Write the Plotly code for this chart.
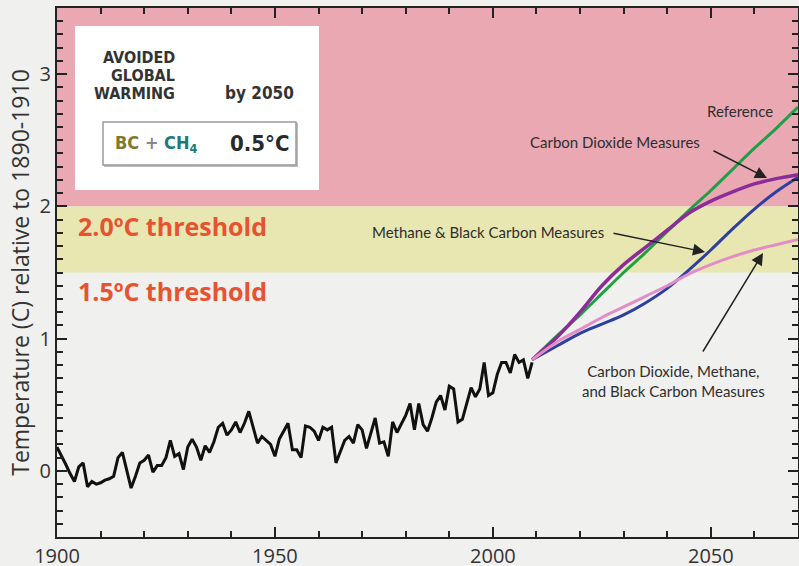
import plotly.graph_objects as go

# ---------------- data ----------------
obs_years = list(range(1900, 2010))
obs_temp = [
    0.18, 0.12, 0.05, -0.02, -0.08, 0.03, 0.06, -0.12, -0.08, -0.10,
    -0.09, -0.07, -0.06, -0.04, 0.10, 0.14, 0.00, -0.13, -0.04, 0.06,
    0.08, 0.12, -0.01, 0.04, 0.04, 0.10, 0.23, 0.11, 0.13, 0.01,
    0.18, 0.24, 0.18, 0.08, 0.19, 0.14, 0.22, 0.33, 0.36, 0.27,
    0.31, 0.37, 0.29, 0.36, 0.45, 0.33, 0.21, 0.26, 0.23, 0.20,
    0.11, 0.24, 0.30, 0.36, 0.16, 0.16, 0.10, 0.34, 0.33, 0.30,
    0.23, 0.33, 0.31, 0.33, 0.06, 0.15, 0.23, 0.26, 0.21, 0.35,
    0.31, 0.17, 0.29, 0.40, 0.21, 0.22, 0.11, 0.37, 0.29, 0.35,
    0.42, 0.51, 0.31, 0.51, 0.35, 0.30, 0.40, 0.52, 0.57, 0.46,
    0.64, 0.62, 0.37, 0.39, 0.51, 0.63, 0.56, 0.62, 0.82, 0.57,
    0.59, 0.73, 0.82, 0.82, 0.74, 0.88, 0.82, 0.84, 0.70, 0.82,
]

proj_years = [2009, 2015, 2020, 2025, 2030, 2035, 2040, 2045, 2050, 2055, 2060, 2065, 2070]
reference = [0.84, 1.03, 1.18, 1.34, 1.50, 1.65, 1.81, 1.97, 2.12, 2.28, 2.44, 2.59, 2.75]
co2_measures = [0.84, 1.02, 1.20, 1.40, 1.56, 1.69, 1.82, 1.95, 2.04, 2.11, 2.17, 2.21, 2.24]
ch4_bc_measures = [0.84, 0.95, 1.04, 1.11, 1.18, 1.27, 1.38, 1.52, 1.67, 1.83, 1.98, 2.11, 2.22]
all_measures = [0.84, 0.98, 1.07, 1.16, 1.24, 1.32, 1.40, 1.49, 1.56, 1.62, 1.67, 1.71, 1.75]

x_ticks = [1900, 1950, 2000, 2050]
y_ticks = [0, 1, 2, 3]

# ---------------- layout helpers (pixel -> axis position) ----------------
W, H = 799, 566
ML, MR, MT, MB = 57, 1, 8, 29
X0, X1 = 1900, 2070
Y0, Y1 = -0.5, 3.5
pw, ph = W - ML - MR, H - MT - MB


def px(xp):
    return X0 + (xp - ML) / pw * (X1 - X0)


def py(yp):
    return Y1 - (yp - MT) / ph * (Y1 - Y0)


BG = "#f0f0ee"
PINK = "#eaa8b3"
YELLOW = "#e8e7b1"
TXT = "#2e2e2e"
AFONT = "Lato, Open Sans, sans-serif"
NARROW = "Liberation Sans Narrow, DejaVu Sans Condensed, Roboto, sans-serif"

fig = go.Figure()

fig.add_trace(go.Scatter(x=obs_years, y=obs_temp, mode="lines",
                         line=dict(color="#111111", width=3), showlegend=False))
fig.add_trace(go.Scatter(x=proj_years, y=reference, mode="lines", line_shape="spline",
                         line=dict(color="#1fa046", width=3), showlegend=False))
fig.add_trace(go.Scatter(x=proj_years, y=ch4_bc_measures, mode="lines", line_shape="spline",
                         line=dict(color="#2f3f9e", width=3), showlegend=False))
fig.add_trace(go.Scatter(x=proj_years, y=co2_measures, mode="lines", line_shape="spline",
                         line=dict(color="#8b2c99", width=3.5), showlegend=False))
fig.add_trace(go.Scatter(x=proj_years, y=all_measures, mode="lines", line_shape="spline",
                         line=dict(color="#e28dc6", width=3), showlegend=False))

shapes = [
    dict(type="rect", xref="paper", yref="y", x0=0, x1=1, y0=2.0, y1=3.5,
         fillcolor=PINK, line_width=0, layer="below"),
    dict(type="rect", xref="paper", yref="y", x0=0, x1=1, y0=1.5, y1=2.0,
         fillcolor=YELLOW, line_width=0, layer="below"),
    dict(type="rect", xref="x", yref="y", x0=px(75), x1=px(319), y0=py(190), y1=py(26),
         fillcolor="white", line_width=0, layer="above"),
    dict(type="rect", xref="x", yref="y", x0=px(104), x1=px(298), y0=py(167), y1=py(123),
         fillcolor="#bcbcbc", line_width=0, layer="above"),
    dict(type="rect", xref="x", yref="y", x0=px(103), x1=px(296), y0=py(165), y1=py(122),
         fillcolor="white", line=dict(color="#9a9a9a", width=1.5), layer="above"),
]

ann = []


def text(xp, yp, t, size, color=TXT, family=AFONT, xanchor="center", align="center"):
    ann.append(dict(x=px(xp), y=py(yp), xref="x", yref="y", text=t, showarrow=False,
                    xanchor=xanchor, yanchor="middle", align=align,
                    font=dict(size=size, color=color, family=family)))


def arrow(x_tail, y_tail, x_head, y_head):
    ann.append(dict(x=px(x_head), y=py(y_head), ax=px(x_tail), ay=py(y_tail),
                    xref="x", yref="y", axref="x", ayref="y", text="",
                    showarrow=True, arrowhead=2, arrowsize=1.6, arrowwidth=1.5,
                    arrowcolor="#222222"))


# inset box text
text(177, 57, "<b>AVOIDED</b>", 16, color="#333333", family=NARROW, xanchor="right")
text(177, 75, "<b>GLOBAL</b>", 16, color="#333333", family=NARROW, xanchor="right")
text(177, 93, "<b>WARMING</b>", 16, color="#333333", family=NARROW, xanchor="right")
text(259, 93, "<b>by 2050</b>", 17, color="#333333", family=NARROW)
text(113, 144, "<b><span style='color:#7d7a30'>BC</span> <span style='color:#888'>+</span> "
     "<span style='color:#1e7a76'>CH<sub>4</sub></span></b>", 18, family=NARROW, xanchor="left")
text(259, 143, "<b>0.5°C</b>", 22, color="#2a2a2a", family=NARROW)

# thresholds
text(76, 226, "<b>2.0ºC threshold</b>", 25, color="#e8532f", family="Open Sans, sans-serif", xanchor="left")
text(76, 291, "<b>1.5ºC threshold</b>", 25, color="#e8532f", family="Open Sans, sans-serif", xanchor="left")

# series labels
text(740, 111, "Reference", 15)
text(615, 142, "Carbon Dioxide Measures", 15)
text(488, 232, "Methane &amp; Black Carbon Measures", 15)
text(673, 381, "Carbon Dioxide, Methane,<br>and Black Carbon Measures", 15)

arrow(712, 150, 767, 178)
arrow(612, 233, 705, 252)
arrow(702, 353, 763, 253)

axis_common = dict(showline=True, linecolor="#222222", linewidth=2, mirror="allticks",
                   ticks="inside", ticklen=10, tickwidth=2, tickcolor="#222222",
                   showgrid=False, zeroline=False, automargin=False,
                   tickfont=dict(family="Open Sans, sans-serif", size=20, color="#333333"))

fig.update_layout(
    width=W, height=H,
    margin=dict(l=ML, r=MR, t=MT, b=MB),
    paper_bgcolor=BG, plot_bgcolor=BG,
    shapes=shapes, annotations=ann,
    xaxis=dict(range=[X0, X1], tickvals=x_ticks, ticktext=[str(v) for v in x_ticks],
               minor=dict(dtick=10, tick0=1900, ticks="inside", ticklen=6, tickwidth=2,
                          tickcolor="#222222", showgrid=False),
               **axis_common),
    yaxis=dict(range=[Y0, Y1], tickvals=y_ticks, ticktext=[str(v) for v in y_ticks],
               minor=dict(dtick=0.1, tick0=0, ticks="inside", ticklen=6, tickwidth=2,
                          tickcolor="#222222", showgrid=False),
               title=dict(text="Temperature (C) relative to 1890-1910", standoff=4,
                          font=dict(family="Open Sans, sans-serif", size=23, color="#333333")),
               **axis_common),
)

fig.write_html(
    "out.html",
    config={"displayModeBar": False},
    post_script="document.body.style.margin='0';document.body.style.overflow='hidden';"
                "document.body.style.background='" + BG + "';",
)
